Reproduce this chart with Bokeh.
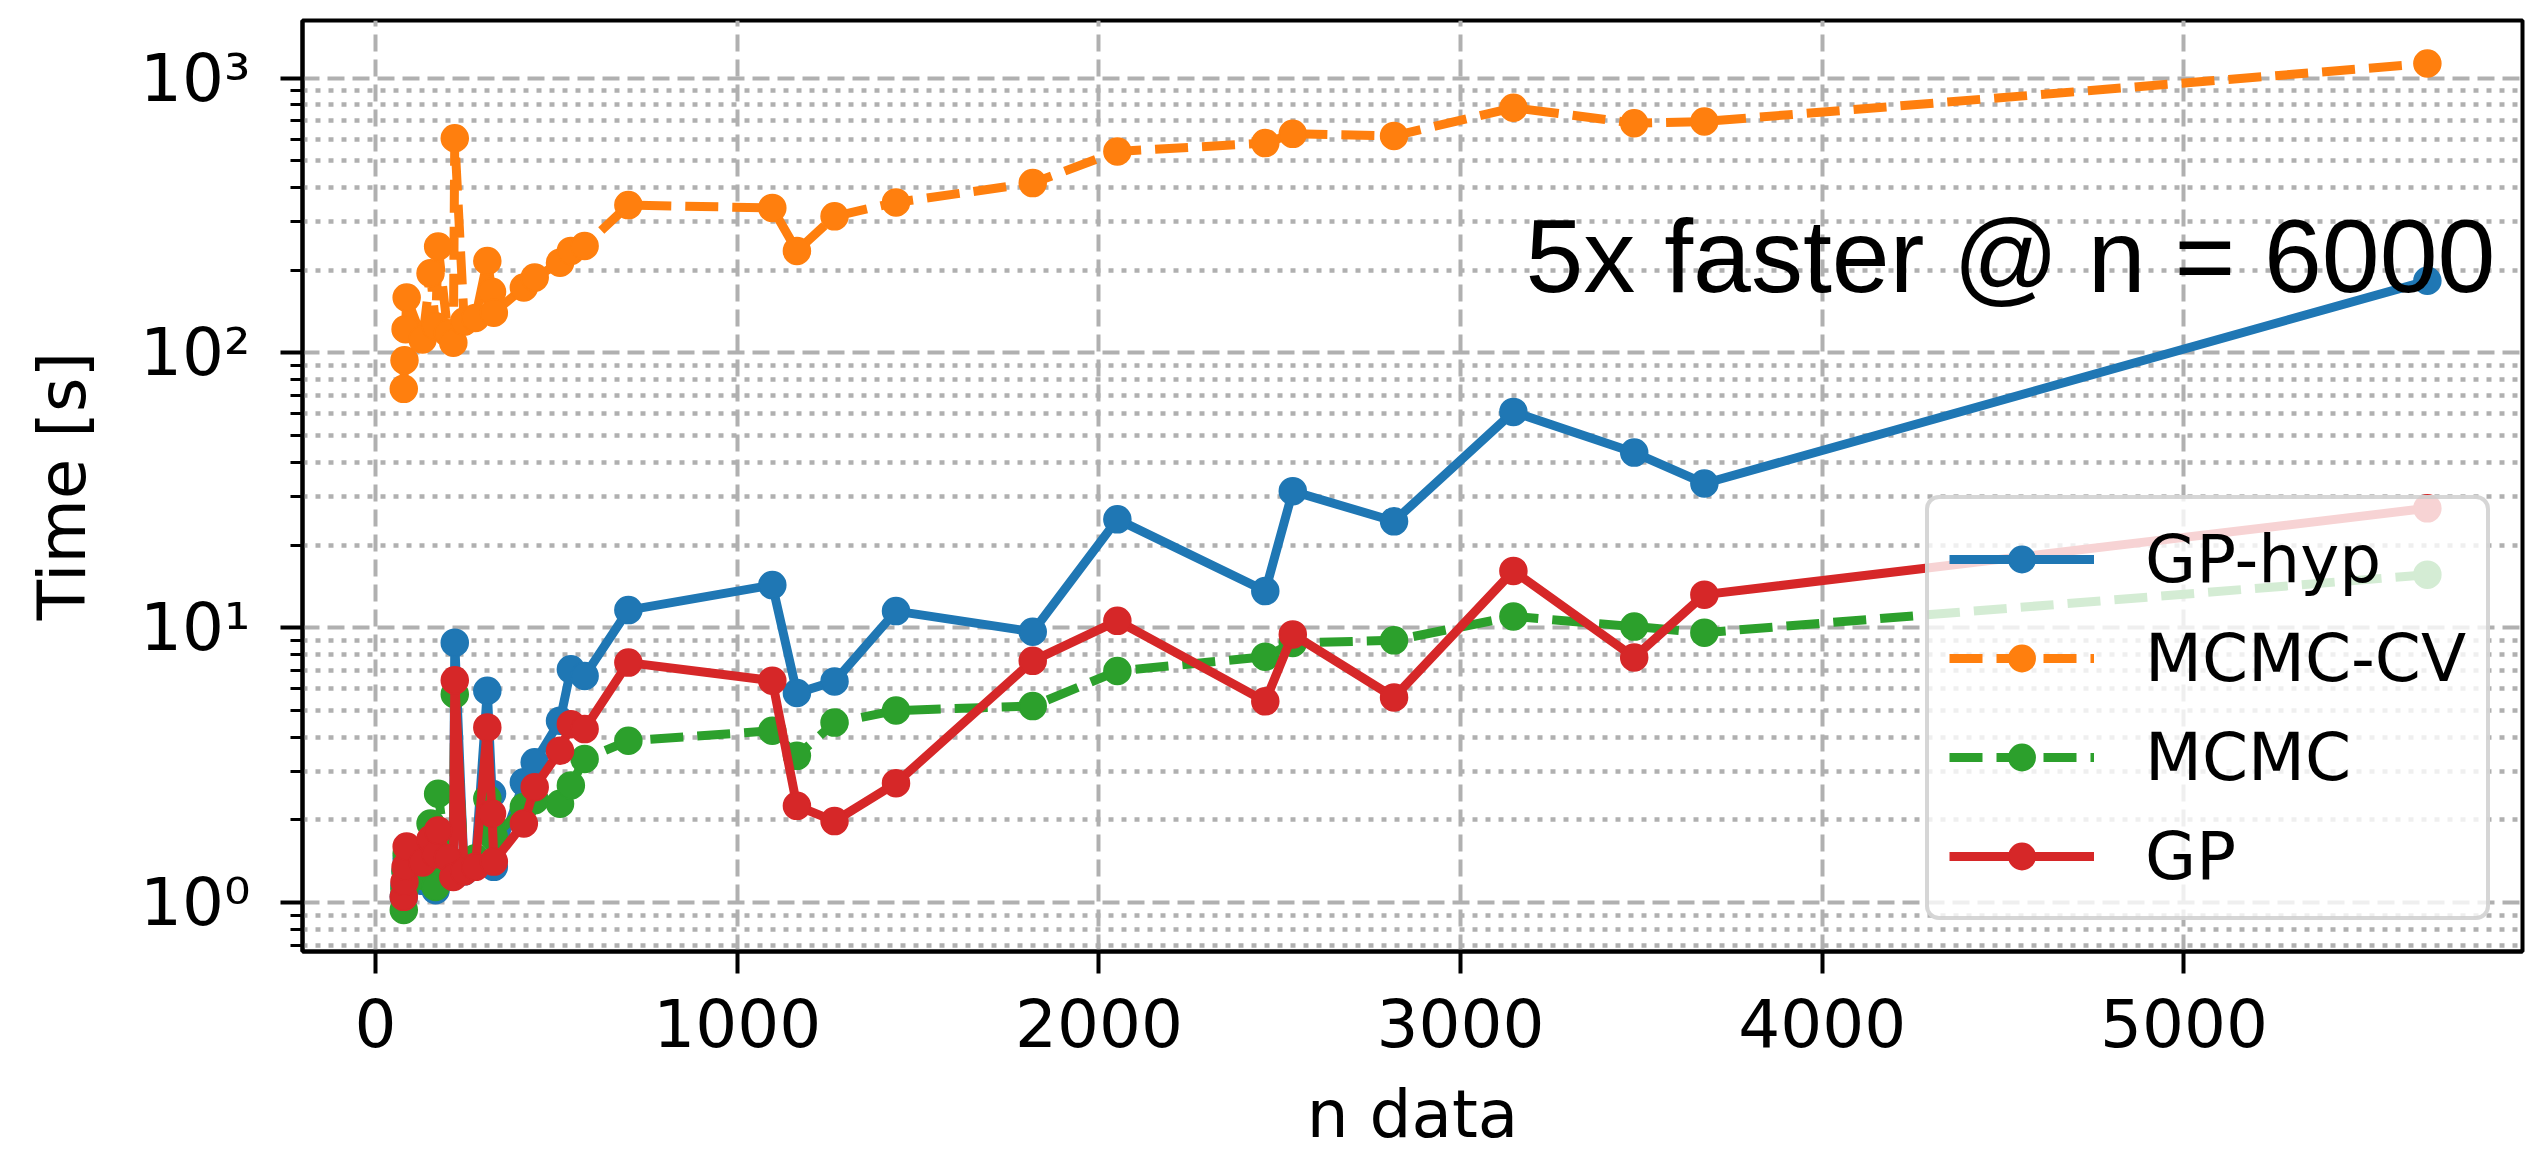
from bokeh.plotting import figure
from bokeh.models import (Range1d, FixedTicker, CustomJSTickFormatter, Legend,
                          LegendItem, Label)
from bokeh.embed import file_html
from bokeh.resources import INLINE

# Number of data points and wall-clock time [s] per method
n_data = [78, 80, 83, 86, 130, 152, 166, 173, 200, 215, 219, 245, 276, 309, 322,
          327, 410, 440, 510, 540, 578, 699, 1097, 1165, 1269, 1439, 1817, 2051,
          2460, 2536, 2816, 3146, 3480, 3674, 5673]

gp_hyp = [1.05, 1.15, 1.3, 1.45, 1.2, 1.55, 1.11, 1.6, 1.35, 1.25, 8.83, 1.3, 1.4,
          5.9, 2.49, 1.35, 2.74, 3.24, 4.59, 7.06, 6.68, 11.6, 14.3, 5.79, 6.38,
          11.5, 9.67, 24.8, 13.6, 31.4, 24.4, 61.0, 43.4, 33.5, 183.0]

mcmc_cv = [74, 94, 122, 159, 112, 195, 125, 244, 118, 109, 604, 130, 134, 216,
           167, 140, 173, 188, 213, 235, 245, 345, 337, 235, 314, 353, 415, 541,
           580, 627, 616, 780, 685, 695, 1130]

mcmc = [0.94, 1.12, 1.3, 1.51, 1.25, 1.94, 1.14, 2.49, 1.35, 1.3, 5.73, 1.4, 1.45,
        2.39, 1.9, 1.73, 2.23, 2.36, 2.29, 2.67, 3.33, 3.88, 4.22, 3.42, 4.52, 5.0,
        5.19, 6.96, 7.85, 8.8, 9.0, 11.0, 10.1, 9.6, 15.6]

gp = [1.05, 1.19, 1.35, 1.6, 1.4, 1.7, 1.5, 1.83, 1.45, 1.24, 6.44, 1.3, 1.35,
      4.34, 2.11, 1.41, 1.94, 2.63, 3.57, 4.46, 4.28, 7.47, 6.42, 2.25, 1.98, 2.72,
      7.58, 10.6, 5.4, 9.46, 5.58, 16.1, 7.8, 13.2, 27.2]

series_names = ["GP-hyp", "MCMC-CV", "MCMC", "GP"]
series_colors = ["#1f77b4", "#ff7f0e", "#2ca02c", "#d62728"]
series_dashes = ["solid", "33 14", "33 14", "solid"]

x_ticks = [0, 1000, 2000, 3000, 4000, 5000]
y_ticks = [1, 10, 100, 1000]
y_minor_ticks = [0.7, 0.8, 0.9,
                 2, 3, 4, 5, 6, 7, 8, 9,
                 20, 30, 40, 50, 60, 70, 80, 90,
                 200, 300, 400, 500, 600, 700, 800, 900]

annotation = "5x faster @ n = 6000"

GRID = "#b0b0b0"
FONT = "DejaVu Sans"
FS = "66px"

p = figure(width=2530, height=1155, y_axis_type="log",
           x_range=Range1d(-202, 5936), y_range=Range1d(0.664, 1620),
           output_backend="svg", toolbar_location=None,
           min_border_left=302, min_border_right=8,
           min_border_top=20, min_border_bottom=200,
           x_axis_label="n data", y_axis_label="Time [s]")
p.background_fill_color = "white"
p.border_fill_color = "white"
p.outline_line_color = "black"
p.outline_line_width = 4

p.xaxis.ticker = FixedTicker(ticks=x_ticks)
p.yaxis.ticker = FixedTicker(ticks=y_ticks, minor_ticks=y_minor_ticks)
p.yaxis.formatter = CustomJSTickFormatter(code=r"""
const sup = {"0": "\u2070", "1": "\u00b9", "2": "\u00b2", "3": "\u00b3",
             "4": "\u2074", "5": "\u2075", "-": "\u207b"};
const e = Math.round(Math.log10(tick));
return "10" + String(e).split("").map(c => sup[c] || c).join("");
""")

for ax in (p.xaxis[0], p.yaxis[0]):
    ax.axis_line_color = "black"
    ax.axis_line_width = 4
    ax.major_tick_line_color = "black"
    ax.major_tick_line_width = 4
    ax.major_tick_in = 0
    ax.major_tick_out = 22
    ax.minor_tick_line_color = "black"
    ax.minor_tick_line_width = 3
    ax.minor_tick_in = 0
    ax.minor_tick_out = 12
    ax.major_label_text_font = FONT
    ax.major_label_text_font_size = FS
    ax.major_label_text_color = "black"
    ax.axis_label_text_font = FONT
    ax.axis_label_text_font_size = FS
    ax.axis_label_text_font_style = "normal"
    ax.axis_label_text_color = "black"

p.xaxis.major_label_standoff = 24
p.xaxis.axis_label_standoff = 26
p.yaxis.major_label_standoff = 30
p.yaxis.axis_label_standoff = 36

p.xgrid.grid_line_color = GRID
p.xgrid.grid_line_width = 4
p.xgrid.grid_line_dash = "17 8"
p.ygrid.grid_line_color = GRID
p.ygrid.grid_line_width = 4
p.ygrid.grid_line_dash = "17 8"
p.ygrid.minor_grid_line_color = GRID
p.ygrid.minor_grid_line_width = 4.5
p.ygrid.minor_grid_line_dash = "5 8"

series_values = [gp_hyp, mcmc_cv, mcmc, gp]
items = []
for name, vals, color, dash in zip(series_names, series_values,
                                   series_colors, series_dashes):
    ln = p.line(n_data, vals, line_color=color, line_width=9,
                line_dash=dash, line_join="round")
    mk = p.scatter(n_data, vals, size=27, fill_color=color, line_color=color,
                   line_width=1.5)
    items.append(LegendItem(label=name, renderers=[ln, mk]))

legend = Legend(items=items, location=(1623, 31), margin=0,
                label_text_font=FONT, label_text_font_size=FS,
                label_text_color="black",
                glyph_width=145, glyph_height=66, label_height=80,
                label_standoff=51, spacing=19, padding=20,
                border_line_color="#cccccc", border_line_width=4,
                border_line_alpha=0.8,
                background_fill_color="white", background_fill_alpha=0.8)
if "border_radius" in Legend.properties():
    legend.border_radius = 14
p.add_layout(legend)

p.add_layout(Label(x=5861, y=224.6, text=annotation,
                   text_font="Liberation Sans", text_font_size="104px",
                   text_align="right", text_baseline="alphabetic",
                   text_color="black"))

open("out.html", "w", encoding="utf-8").write(file_html(p, INLINE))
